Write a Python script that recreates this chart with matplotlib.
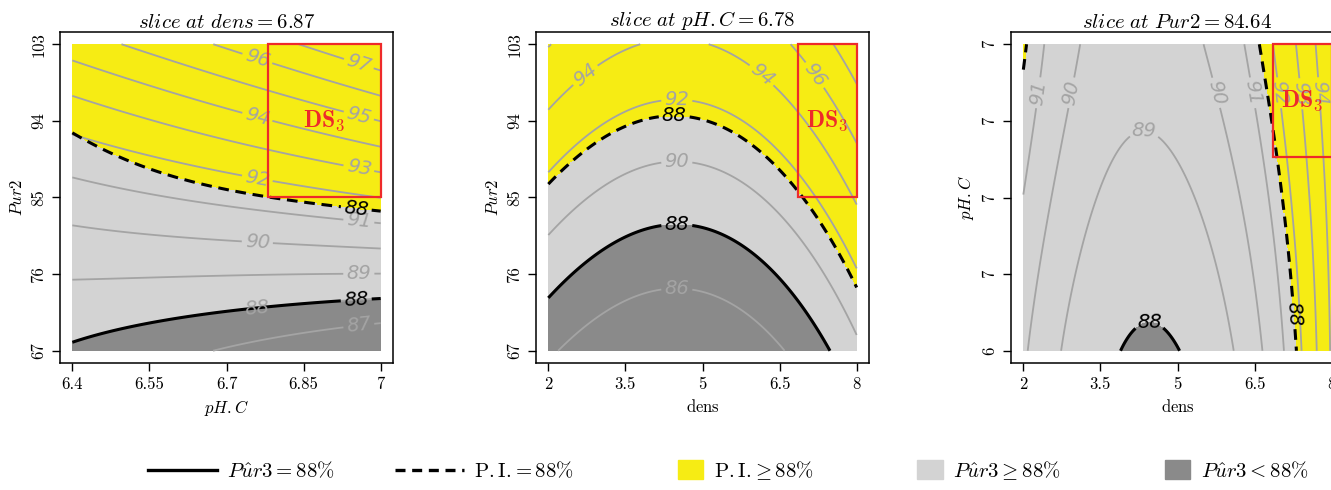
import numpy as np
import matplotlib
matplotlib.use("Agg")
import matplotlib.pyplot as plt
from matplotlib.colors import ListedColormap
from matplotlib.lines import Line2D
from matplotlib.patches import Patch, Rectangle
from matplotlib.legend_handler import HandlerPatch

plt.rcParams["font.family"] = ["cmr10", "DejaVu Serif"]
plt.rcParams["mathtext.fontset"] = "cm"
plt.rcParams["axes.unicode_minus"] = False

# slice values and design space DS3
slice_dens = 6.87
slice_phc = 6.78
slice_pur2 = 84.64
ds3_phc = [6.78, 7.0]
ds3_dens = [6.86, 8.0]
ds3_pur2 = [85.0, 103.0]

# ranges of the three factors
phc_range = [6.4, 7.0]
dens_range = [2.0, 8.0]
pur2_range = [67.0, 103.0]

# contour readings of Pur3 (level, x, y)
# panel 1 : x = pH.C, y = Pur2
p1_lvl = [87] * 5 + [88] * 8 + [89] * 5 + [90] * 6 + [91] * 8 + [92] * 4 + [93] * 5 + [94] * 5 + [95] * 4 + [96] * 4 + [97] * 2
p1_x = [6.66, 6.71, 6.76, 6.89, 7.0,
        6.4, 6.47, 6.55, 6.63, 6.7, 6.79, 6.9, 7.0,
        6.4, 6.55, 6.71, 6.9, 7.0,
        6.4, 6.55, 6.71, 6.8, 6.9, 7.0,
        6.4, 6.47, 6.55, 6.63, 6.7, 6.79, 6.9, 7.0,
        6.7, 6.8, 6.89, 7.0,
        6.4, 6.55, 6.72, 6.85, 7.0,
        6.4, 6.55, 6.72, 6.81, 7.0,
        6.51, 6.78, 6.96, 7.0,
        6.62, 6.78, 6.88, 7.0,
        6.87, 7.0]
p1_y = [67.0, 67.6, 68.1, 69.3, 70.2,
        67.9, 69.3, 70.5, 71.3, 71.6, 72.2, 72.8, 73.2,
        74.7, 75.3, 75.7, 75.9, 76.1,
        81.7, 80.6, 79.8, 79.6, 79.2, 79.0,
        88.6, 87.1, 85.7, 84.5, 83.9, 83.2, 82.6, 82.1,
        87.9, 86.9, 85.9, 85.2,
        95.3, 93.4, 91.3, 89.6, 88.2,
        101.7, 98.7, 95.8, 93.7, 91.0,
        103.0, 98.2, 94.3, 93.7,
        103.0, 100.6, 99.0, 96.8,
        103.0, 99.8]
# P.I. = 88 line
p1_pi_x = [6.4, 6.47, 6.55, 6.64, 6.71, 6.78, 6.91, 7.0]
p1_pi_y = [92.4, 90.4, 88.6, 86.9, 85.8, 84.9, 83.9, 83.5]

# panel 2 : x = dens, y = Pur2
p2_lvl = [86] * 7 + [88] * 10 + [90] * 10 + [92] * 10 + [94] * 11 + [96] * 4 + [98] * 2
p2_x = [2.16, 3.06, 3.91, 4.5, 4.96, 5.61, 6.58,
        2.0, 2.74, 3.39, 3.91, 4.58, 4.96, 5.61, 6.26, 6.91, 7.46,
        2.0, 2.74, 3.39, 4.04, 4.52, 5.61, 6.26, 6.91, 7.56, 8.0,
        2.0, 2.74, 3.39, 3.97, 4.89, 5.6, 6.26, 6.91, 7.56, 8.0,
        2.0, 2.74, 3.13, 3.52, 5.21, 5.63, 5.99, 6.44, 6.83, 7.4, 8.0,
        6.8, 6.99, 7.27, 8.0,
        7.56, 8.0]
p2_y = [67.0, 71.4, 73.8, 74.0, 73.8, 72.6, 67.0,
        73.2, 77.3, 80.0, 81.6, 81.8, 81.3, 79.6, 76.9, 72.6, 67.0,
        80.6, 84.7, 87.5, 89.0, 89.3, 87.5, 84.7, 80.4, 74.9, 68.9,
        87.8, 92.3, 94.9, 96.2, 96.1, 94.9, 92.9, 88.2, 81.2, 76.5,
        95.4, 99.4, 101.1, 102.5, 103.0, 101.1, 99.9, 97.4, 95.1, 89.3, 83.8,
        103.0, 100.3, 98.4, 91.7,
        103.0, 98.8]
p2_pi_x = [2.0, 2.74, 3.39, 3.97, 4.58, 4.96, 5.61, 6.26, 6.91, 7.56, 8.0]
p2_pi_y = [86.6, 90.6, 92.9, 94.4, 94.7, 94.1, 92.9, 89.8, 84.7, 79.2, 74.9]

# panel 3 : x = dens, y = pH.C
p3_lvl = [88] * 5 + [89] * 10 + [90] * 8 + [91] * 8 + [92] * 4 + [93] * 4 + [94] * 4
p3_x = [3.81, 3.98, 4.38, 4.7, 4.93,
        2.71, 3.04, 3.43, 3.99, 4.46, 4.93, 5.32, 5.71, 5.97, 6.04,
        2.1, 2.46, 2.91, 3.17, 5.58, 5.81, 6.3, 6.63,
        2.0, 2.23, 2.39, 6.33, 6.52, 6.63, 6.92, 7.11,
        6.8, 7.08, 7.15, 7.47,
        7.31, 7.34, 7.54, 7.7,
        7.7, 7.83, 7.93, 7.94]
p3_y = [6.4, 6.427, 6.451, 6.436, 6.4,
        6.4, 6.572, 6.702, 6.812, 6.814, 6.789, 6.721, 6.604, 6.474, 6.4,
        6.4, 6.636, 6.884, 7.0, 7.0, 6.891, 6.637, 6.4,
        6.708, 6.871, 7.0, 7.0, 6.884, 6.767, 6.572, 6.4,
        7.0, 6.806, 6.767, 6.4,
        7.0, 6.936, 6.747, 6.4,
        7.0, 6.825, 6.572, 6.4]
p3_pi_x = [2.0, 2.05, 6.63, 6.88, 7.11, 7.34]
p3_pi_y = [6.95, 6.99, 7.0, 6.8, 6.605, 6.4]

p1_levels = [87, 88, 89, 90, 91, 92, 93, 94, 95, 96, 97]
p2_levels = [86, 88, 90, 92, 94, 96, 98]
p3_levels = [88, 89, 90, 91, 92, 93, 94]

pur2_ticks = [67, 76, 85, 94, 103]
phc_ticks = [6.4, 6.55, 6.7, 6.85, 7.0]
phc_ticklabels = ["6.4", "6.55", "6.7", "6.85", "7"]
phc_ticklabels_round = ["6", "7", "7", "7", "7"]
dens_ticks = [2, 3.5, 5, 6.5, 8]
dens_ticklabels = ["2", "3.5", "5", "6.5", "8"]

YELLOW = "#F6EC14"
LIGHT = "#D3D3D3"
DARK = "#8A8A8A"
LINE = "#A4A4A4"
RED = "#EE2A2A"


def terms(u, v, deg):
    return np.stack([u ** i * v ** j for i in range(deg + 1) for j in range(deg + 1 - i)], axis=-1)


def surface(xr, yr, cx, cy, cz, pix, piy, deg, n=241):
    # smooth polynomial surface through the contour readings
    nu = lambda x: (np.asarray(x, float) - xr[0]) / (xr[1] - xr[0])
    nv = lambda y: (np.asarray(y, float) - yr[0]) / (yr[1] - yr[0])
    coef = np.linalg.lstsq(terms(nu(cx), nv(cy), deg), np.asarray(cz, float), rcond=None)[0]
    pred = lambda u, v: terms(u, v, deg) @ coef
    # half width of the prediction interval, linear in the two factors
    half = pred(nu(pix), nv(piy)) - 88
    A = np.column_stack([np.ones(len(pix)), nu(pix), nv(piy)])
    hc = np.linalg.lstsq(A, half, rcond=None)[0]
    X, Y = np.meshgrid(np.linspace(*xr, n), np.linspace(*yr, n))
    U, V = nu(X), nv(Y)
    Z = pred(U, V)
    PI = Z - (hc[0] + hc[1] * U + hc[2] * V)
    return X, Y, Z, PI


def label_spots(cs, xr, yr, rule, fracs):
    # R-like label placement: near the right side (rule "x") or near the top of each line
    spots = []
    for k, segs in enumerate(cs.allsegs):
        f = fracs[k % len(fracs)]
        for s in segs:
            ext_x = np.ptp(s[:, 0]) / (xr[1] - xr[0])
            ext_y = np.ptp(s[:, 1]) / (yr[1] - yr[0])
            if max(ext_x, ext_y) < 0.15:
                continue
            if rule == "x":
                i = np.argmin(np.abs(s[:, 0] - (xr[0] + f * (xr[1] - xr[0]))))
            else:
                ty = min(s[:, 1].max(), yr[0] + f * (yr[1] - yr[0]))
                i = np.argmin(np.abs(s[:, 1] - ty))
            spots.append((s[i, 0], s[i, 1]))
    return spots


def labels(ax, cs, color, xr, yr, rule, fracs):
    spots = label_spots(cs, xr, yr, rule, fracs)
    if not spots:
        return
    texts = ax.clabel(cs, fmt="%d", fontsize=14, inline_spacing=7, manual=spots)
    for t in texts:
        t.set_fontfamily("DejaVu Sans")
        t.set_fontstyle("italic")
        t.set_color(color)


def draw(ax, xr, yr, field, levels, xt, xtl, yt, ytl, title, xlabel, ylabel, bx, by,
         rule, fracs, black_rule, black_frac):
    X, Y, Z, PI = field
    cls = np.where(PI > 88, 2, np.where(Z >= 88, 1, 0))
    ax.imshow(cls, extent=(xr[0], xr[1], yr[0], yr[1]), origin="lower", aspect="auto",
              cmap=ListedColormap([DARK, LIGHT, YELLOW]), vmin=0, vmax=2, interpolation="nearest")
    cs = ax.contour(X, Y, Z, levels=levels, colors=LINE, linewidths=1.3)
    labels(ax, cs, LINE, xr, yr, rule, fracs)
    c88 = ax.contour(X, Y, Z, levels=[88], colors="k", linewidths=2.2)
    labels(ax, c88, "k", xr, yr, black_rule, [black_frac])
    cpi = ax.contour(X, Y, PI, levels=[88], colors="k", linewidths=2.2, linestyles=[(0, (3.5, 2.2))])
    labels(ax, cpi, "k", xr, yr, black_rule, [black_frac])

    ax.add_patch(Rectangle((bx[0], by[0]), bx[1] - bx[0], by[1] - by[0], fill=False,
                           ec=RED, lw=1.6, zorder=5))
    ax.text((bx[0] + bx[1]) / 2, (by[0] + by[1]) / 2, r"$\mathbf{DS_3}$", color=RED,
            ha="center", va="center", fontsize=17, zorder=6)

    dx = 0.04 * (xr[1] - xr[0])
    dy = 0.04 * (yr[1] - yr[0])
    ax.set_xlim(xr[0] - dx, xr[1] + dx)
    ax.set_ylim(yr[0] - dy, yr[1] + dy)
    ax.set_xticks(xt)
    ax.set_xticklabels(xtl)
    ax.set_yticks(yt)
    ax.set_yticklabels(ytl, rotation=90, va="center")
    ax.tick_params(length=6, width=1, labelsize=12, pad=4)
    ax.set_title(title, fontsize=15, pad=3)
    ax.set_xlabel(xlabel, fontsize=12, labelpad=4)
    ax.set_ylabel(ylabel, fontsize=12, labelpad=4)
    for s in ax.spines.values():
        s.set_linewidth(1.1)


fig = plt.figure(figsize=(13.31, 4.90), dpi=100)
W, H = 1331.0, 490.0
ax1 = fig.add_axes([60 / W, 127 / H, 333 / W, 331 / H])
ax2 = fig.add_axes([536 / W, 127 / H, 333 / W, 331 / H])
ax3 = fig.add_axes([1011 / W, 127 / H, 333 / W, 331 / H])

f1 = surface(phc_range, pur2_range, p1_x, p1_y, p1_lvl, p1_pi_x, p1_pi_y, 3)
f2 = surface(dens_range, pur2_range, p2_x, p2_y, p2_lvl, p2_pi_x, p2_pi_y, 3)
f3 = surface(dens_range, phc_range, p3_x, p3_y, p3_lvl, p3_pi_x, p3_pi_y, 4)

draw(ax1, phc_range, pur2_range, f1, p1_levels, phc_ticks, phc_ticklabels, pur2_ticks,
     [str(t) for t in pur2_ticks], r"$\mathit{slice\ at}\ dens = %.2f$" % slice_dens,
     r"$pH.C$", r"$Pur2$", ds3_phc, ds3_pur2, "x", [0.93, 0.6], "x", 0.92)
draw(ax2, dens_range, pur2_range, f2, p2_levels, dens_ticks, dens_ticklabels, pur2_ticks,
     [str(t) for t in pur2_ticks], r"$\mathit{slice\ at\ pH.C{=}%.2f}$" % slice_phc,
     r"$\mathrm{dens}$", r"$Pur2$", ds3_dens, ds3_pur2, "top", [0.9], "top", 0.95)
draw(ax3, dens_range, phc_range, f3, p3_levels, dens_ticks, dens_ticklabels, phc_ticks,
     phc_ticklabels_round, r"$\mathit{slice\ at}\ Pur2 = %.2f$" % slice_pur2,
     r"$\mathrm{dens}$", r"$pH.C$", ds3_dens, ds3_phc, "top", [0.84], "top", 0.12)


def box_handle(legend, orig_handle, xdescent, ydescent, width, height, fontsize):
    w = 1.75 * height
    return Rectangle((width - w - xdescent, -ydescent - 0.15 * height), w, 1.3 * height)


handles = [Line2D([], [], color="k", lw=2.4),
           Line2D([], [], color="k", lw=2.4, ls=(0, (3, 2))),
           Patch(color=YELLOW), Patch(color=LIGHT), Patch(color=DARK)]
legend_labels = [r"$P\hat{u}r3 = 88\%$", r"$\mathrm{P.I.}\!= 88\%$", r"$\mathrm{P.I.}\!\geq 88\%$",
                 r"$P\hat{u}r3 \geq 88\%$", r"$P\hat{u}r3 < 88\%$"]
fig.legend(handles, legend_labels, loc="center", bbox_to_anchor=(0.547, 0.04), ncol=5, frameon=False,
           fontsize=15, handlelength=3.3, columnspacing=2.9, handletextpad=0.5,
           handler_map={Patch: HandlerPatch(patch_func=box_handle)})

fig.savefig("out.png", dpi=100)
